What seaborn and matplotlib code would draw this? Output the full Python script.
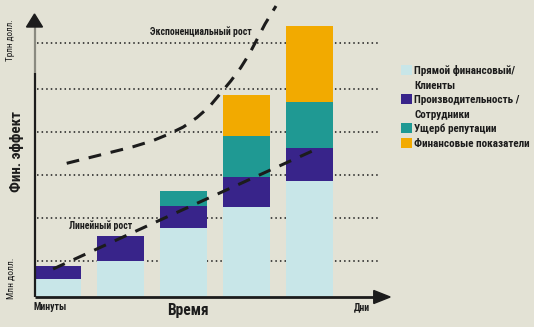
import matplotlib
matplotlib.use("Agg")
import matplotlib.pyplot as plt
import seaborn as sns
import pandas as pd
import numpy as np
from matplotlib.patches import Patch, Polygon

# ---- data ----
stages = [0, 1, 2, 3, 4]
direct = [18, 36, 69, 90, 116]          # Прямой финансовый / Клиенты
productivity = [13, 25, 22, 30, 33]     # Производительность / Сотрудники
reputation = [0, 0, 15, 41, 46]         # Ущерб репутации
financial = [0, 0, 0, 41, 76]           # Финансовые показатели

linear_x = [-0.07, 1.63, 4.15]
linear_y = [28, 77, 149]
exp_x = [0.146, 0.675, 1.203, 1.511, 1.759, 1.997, 2.210, 2.410, 2.579,
         2.754, 2.908, 3.044, 3.162, 3.294, 3.468]
exp_y = [133.7, 142, 150.3, 156.3, 162.7, 170, 179.3, 190.3, 203,
         216.3, 229.3, 243, 257, 273, 291]
grid_levels = [36, 79, 122, 165, 208, 254]

legend_labels = ["Прямой финансовый/", "Клиенты", "Производительность /",
                 "Сотрудники", "Ущерб репутации", "Финансовые показатели"]

BG = "#e3e2d5"
C_LIGHT = "#c8e6e8"
C_PURPLE = "#38248a"
C_TEAL = "#1f9993"
C_ORANGE = "#f2aa00"
INK = "#1c1c1c"

sns.set_theme(style="white")
FONT = ["Roboto Condensed", "DejaVu Sans"]
plt.rcParams["font.family"] = FONT

W, H = 534, 327
fig = plt.figure(figsize=(W / 100, H / 100), dpi=100, facecolor=BG)
ax = fig.add_axes([26 / W, 30 / H, 378 / W, 297 / H])
ax.set_facecolor(BG)
ax.set_xlim(-0.5, 5.5)
ax.set_ylim(0, 297)

c1 = np.array(direct)
c2 = c1 + np.array(productivity)
c3 = c2 + np.array(reputation)
c4 = c3 + np.array(financial)
df = pd.DataFrame({"stage": stages, "c1": c1, "c2": c2, "c3": c3, "c4": c4})

# dotted guide lines
ax.hlines(grid_levels, -0.325, 5.09, colors=INK, linestyles=(0, (1, 2)),
          linewidth=1.1, zorder=0)

for col, colr in [("c4", C_ORANGE), ("c3", C_TEAL), ("c2", C_PURPLE), ("c1", C_LIGHT)]:
    sns.barplot(data=df, x="stage", y=col, color=colr, saturation=1, width=0.746,
                native_scale=True, linewidth=0, ax=ax, zorder=2)

sns.lineplot(x=linear_x, y=linear_y, ax=ax, color=INK, linewidth=2.2,
             linestyle=(0, (4.2, 3.2)), zorder=4, sort=False)
sns.lineplot(x=exp_x, y=exp_y, ax=ax, color=INK, linewidth=2.2,
             linestyle=(0, (4.2, 3.2)), zorder=4, sort=False)
for ln in ax.lines:
    ln.set_clip_on(False)
    ln.set_dash_capstyle("butt")
    ln.set_solid_joinstyle("round")
    ln.set_dash_joinstyle("round")

for s in ax.spines.values():
    s.set_visible(False)
ax.set_xticks([])
ax.set_yticks([])
ax.set_xlabel("")
ax.set_ylabel("")

# axis lines + arrows
ax.plot([-0.365, -0.365], [0, 224], color=INK, lw=1.6, solid_capstyle="butt", zorder=5, clip_on=False)
ax.plot([-0.365, -0.365], [224, 270], color="#8a8a80", lw=1.6, solid_capstyle="butt", zorder=5, clip_on=False)
ax.add_patch(Polygon([[-0.365 - 0.127, 270], [-0.365 + 0.127, 270], [-0.365, 283]],
                     closed=True, color=INK, zorder=5, clip_on=False))
ax.plot([-0.365, 5.03], [0, 0], color=INK, lw=2.0, solid_capstyle="butt", zorder=5, clip_on=False)
ax.add_patch(Polygon([[5.02, -6.5], [5.02, 6.5], [5.28, 0]],
                     closed=True, color=INK, zorder=5, clip_on=False))

def ftext(x, y, s, **kw):
    fig.text(x / W, 1 - y / H, s, color=INK, **kw)

ftext(11, 40, "Трлн долл.", rotation=90, ha="center", va="center", fontsize=6.6)
ftext(11, 278, "Млн долл.", rotation=90, ha="center", va="center", fontsize=6.8)
ftext(17, 152, "Фин. эффект", rotation=90, ha="center", va="center", fontsize=10.8, fontweight="bold")
ftext(34, 307, "Минуты", ha="left", va="center", fontsize=7, fontweight="bold")
ftext(370, 307, "Дни", ha="right", va="center", fontsize=7, fontweight="bold")
ftext(188, 310, "Время", ha="center", va="center", fontsize=11.2, fontweight="bold")
ftext(201, 32, "Экспоненциальный рост", ha="center", va="center", fontsize=7, fontweight="bold")
ftext(101, 226, "Линейный рост", ha="center", va="center", fontsize=7, fontweight="bold")

none = Patch(facecolor="none", edgecolor="none")
handles = [Patch(facecolor=C_LIGHT, edgecolor="none"), none,
           Patch(facecolor=C_PURPLE, edgecolor="none"), none,
           Patch(facecolor=C_TEAL, edgecolor="none"), Patch(facecolor=C_ORANGE, edgecolor="none")]
leg = fig.legend(handles, legend_labels, loc="upper left",
                 bbox_to_anchor=(401 / W, 1 - 65 / H), frameon=False,
                 prop={"family": FONT, "weight": "bold", "size": 8},
                 handlelength=1.0, handleheight=1.0, handletextpad=0.2,
                 labelspacing=0.34, borderaxespad=0, borderpad=0)
for t in leg.get_texts():
    t.set_color(INK)

fig.savefig("out.png", dpi=100, facecolor=BG)
